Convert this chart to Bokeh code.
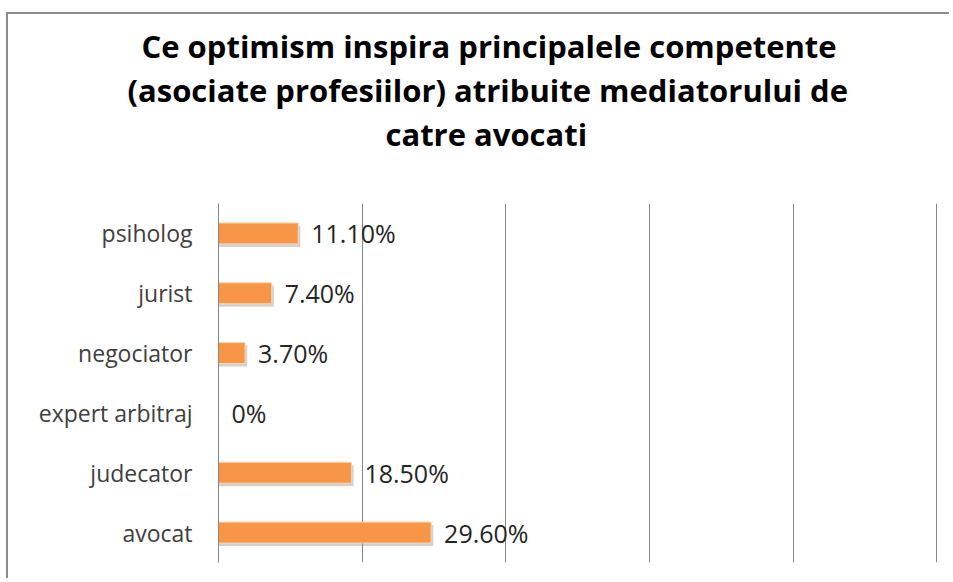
from bokeh.plotting import figure
from bokeh.models import Range1d, FactorRange, ColumnDataSource, Title, SingleIntervalTicker
from bokeh.transform import dodge
from bokeh.core.properties import value
from bokeh.embed import file_html
from bokeh.resources import INLINE

# ---- data ----
categories = ["avocat", "judecator", "expert arbitraj", "negociator", "jurist", "psiholog"]
percentages = [29.6, 18.5, 0.0, 3.7, 7.4, 11.1]
value_labels = ["29.60%", "18.50%", "0%", "3.70%", "7.40%", "11.10%"]
title_lines = ["Ce optimism inspira principalele competente",
               "(asociate profesiilor) atribuite mediatorului  de",
               "catre  avocati"]
# horizontal offsets (px from the plot-area left edge) that centre each title line on the chart
title_offsets = [-77, -91, 167]

shadow_right = [v + 0.3 if v > 0 else 0 for v in percentages]
src = ColumnDataSource(dict(cat=categories, val=percentages, lab=value_labels, sh=shadow_right))

p = figure(width=943, height=566, output_backend="svg", toolbar_location=None,
           y_range=FactorRange(*categories, range_padding=0), x_range=Range1d(0, 100.1),
           min_border_left=210, min_border_right=14, min_border_top=189, min_border_bottom=18,
           styles={"border-top": "2px solid #8c8c8c", "border-left": "2px solid #8c8c8c",
                   "margin-top": "12px", "margin-left": "6px"})
p.outline_line_color = None
p.background_fill_color = "white"
p.border_fill_color = "white"

# shadow
p.hbar(y=dodge("cat", -0.05, range=p.y_range), left=0, right="sh", height=0.35,
       source=src, fill_color="#7f7f7f", fill_alpha=0.35, line_color=None)
# bars
p.hbar(y="cat", left=0, right="val", height=0.35, source=src,
       fill_color="#F79646", line_color="#fbd5b5", line_width=1)
# value labels
p.text(x="val", y="cat", text="lab", source=src, x_offset=13,
       text_baseline="middle", text_align="left", text_font=value("Open Sans"),
       text_font_size="25px", text_color="#262626")

p.xaxis.visible = False
p.xaxis.ticker = SingleIntervalTicker(interval=20)
p.xgrid.ticker = SingleIntervalTicker(interval=20)
p.xgrid.grid_line_color = "#868686"
p.xgrid.grid_line_width = 1
p.ygrid.grid_line_color = None

p.yaxis.axis_line_color = "#868686"
p.yaxis.major_tick_line_color = None
p.yaxis.minor_tick_line_color = None
p.yaxis.major_tick_out = 0
p.yaxis.major_label_standoff = 26
p.yaxis.major_label_text_font = "Open Sans"
p.yaxis.major_label_text_font_size = "23px"
p.yaxis.major_label_text_color = "#404040"

# spacer between title and plot area
p.add_layout(Title(text=" ", text_font_size="1px", standoff=46), "above")
# title lines, stacked outward from the frame
for line, off in zip(reversed(title_lines), reversed(title_offsets)):
    p.add_layout(Title(text=line, align="left", offset=off, standoff=0,
                       text_font="Open Sans", text_font_size="31px", text_font_style="bold",
                       text_color="#000000"), "above")

open("out.html", "w").write(file_html(p, INLINE))
